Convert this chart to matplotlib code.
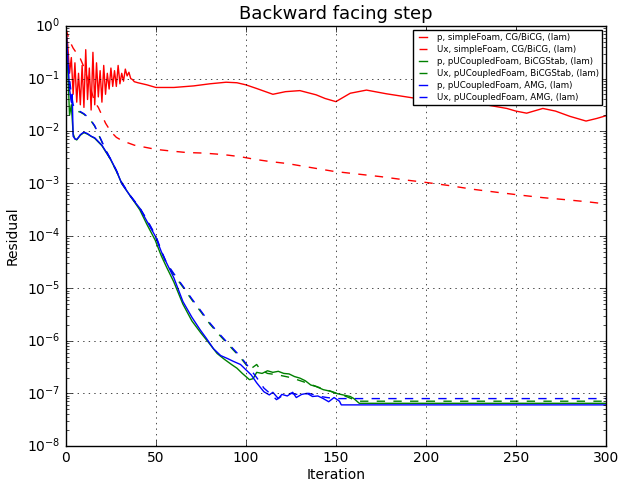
import matplotlib
matplotlib.use("Agg")
import matplotlib.pyplot as plt
import numpy as np

plt.style.use("classic")

# p, simpleFoam (log10 of residual)
p_simple_it = [0, 1, 2, 3, 4, 5, 6, 7, 8, 9, 10, 11, 12, 13, 14, 15, 16, 17, 18, 19,
               20, 21, 22, 23, 24, 25, 26, 27, 28, 29, 30, 31, 32, 33, 34, 35, 36, 37, 38,
               40, 45, 50, 60, 71, 80, 89, 95, 100, 106, 115, 122, 130, 139, 144, 150,
               158, 167, 178, 193, 200, 210, 220, 235, 245, 250, 256, 260, 265, 272, 280,
               289, 295, 300]
p_simple_log = [-0.05, -0.35, -0.9, -0.6, -1.3, -0.7, -1.45, -0.9, -1.5, -0.75,
                -1.55, -0.45, -1.4, -0.8, -1.6, -0.5, -1.5, -0.7, -1.35, -0.85,
                -1.45, -0.75, -1.3, -0.9, -1.2, -0.8, -1.15, -0.85, -1.15, -0.75,
                -1.1, -0.9, -1.05, -0.82, -0.95, -0.88, -1.0, -1.02, -1.06,
                -1.08, -1.12, -1.17, -1.17, -1.14, -1.1, -1.07, -1.08, -1.12, -1.19,
                -1.30, -1.25, -1.23, -1.31, -1.38, -1.44, -1.28, -1.22, -1.29, -1.37,
                -1.36, -1.38, -1.44, -1.51, -1.57, -1.62, -1.66, -1.62, -1.57, -1.62,
                -1.72, -1.81, -1.76, -1.71]

# Ux, simpleFoam
ux_simple_it = [0, 2, 4, 6, 8, 10, 12, 14, 16, 18, 20, 22, 24, 26, 28, 30, 34, 38, 44,
                50, 58, 67, 76, 84, 90, 97, 105, 113, 123, 135, 149, 162, 175, 188, 200,
                213, 226, 240, 252, 265, 278, 290, 300]
ux_simple_log = [-0.05, -0.28, -0.42, -0.52, -0.62, -0.78, -1.0, -1.22, -1.45, -1.55,
                 -1.7, -1.85, -1.96, -2.05, -2.12, -2.16, -2.22, -2.27, -2.31,
                 -2.35, -2.38, -2.41, -2.42, -2.44, -2.46, -2.49, -2.54, -2.58, -2.62,
                 -2.69, -2.77, -2.82, -2.87, -2.93, -2.98, -3.04, -3.11, -3.17, -3.22,
                 -3.27, -3.31, -3.35, -3.39]

# p, pUCoupledFoam, BiCGStab
p_bicg_it = [0, 1, 2, 3, 4, 5, 6, 8, 10, 12, 14, 16, 18, 20, 22, 24.6, 28, 31, 36, 41,
             45, 49.6, 53, 56, 60, 65, 70, 75, 79, 84, 88, 92, 95, 98, 102, 104, 106,
             109, 112, 115, 118, 121, 124, 127, 130, 133, 136, 139, 143, 147, 150, 154,
             158, 160, 163, 300]
p_bicg_log = [-0.02, -0.8, -1.7, -1.5, -2.05, -2.15, -2.17, -2.08, -2.03, -2.06, -2.1,
              -2.14, -2.21, -2.28, -2.39, -2.53, -2.76, -3.0, -3.25, -3.5,
              -3.78, -4.08, -4.38, -4.6, -4.88, -5.3, -5.62, -5.85, -6.02, -6.24, -6.35,
              -6.45, -6.52, -6.62, -6.74, -6.72, -6.6, -6.62, -6.57, -6.6, -6.58, -6.62,
              -6.63, -6.68, -6.71, -6.76, -6.84, -6.87, -6.93, -6.96, -7.0, -7.03,
              -7.06, -7.1, -7.19, -7.19]

# Ux, pUCoupledFoam, BiCGStab
ux_bicg_it = [0, 1, 2, 3, 4, 6, 8, 10, 12, 14, 16, 18, 20, 22, 25, 28, 31, 36, 41, 46,
              50, 53, 56, 60, 65.3, 70, 74.6, 80, 84, 91, 97, 100, 102, 104, 106, 108,
              112, 118, 125, 132, 140, 148, 155, 160, 163, 300]
ux_bicg_log = [-0.1, -0.7, -1.2, -1.4, -1.55, -1.62, -1.64, -1.68, -1.74, -1.81, -1.91,
               -2.06, -2.21, -2.36, -2.56, -2.76, -2.99, -3.25, -3.47, -3.76,
               -4.02, -4.3, -4.54, -4.74, -4.99, -5.22, -5.43, -5.68, -5.84, -6.1, -6.32,
               -6.45, -6.55, -6.5, -6.45, -6.55, -6.62, -6.65, -6.7, -6.78, -6.88, -6.97,
               -7.05, -7.12, -7.15, -7.15]

# p, pUCoupledFoam, AMG
p_amg_it = [0, 1, 2, 3, 3.5, 4, 5, 6, 7, 8, 10, 12, 14, 16, 18, 20, 22, 24.6, 28, 31,
            36, 41, 45, 49.6, 53, 56, 60, 65, 70, 74.6, 78, 82, 86, 90, 93, 97, 100, 103,
            106, 110, 113, 115, 118, 120, 123, 126, 128, 131, 134, 137, 140, 143, 146,
            149, 152, 153, 300]
p_amg_log = [-0.02, -0.6, -1.2, -1.45, -1.3, -2.1, -2.15, -2.16, -2.12, -2.07, -2.02,
             -2.05, -2.1, -2.13, -2.2, -2.27, -2.38, -2.52, -2.75, -3.0,
             -3.25, -3.47, -3.72, -4.0, -4.3, -4.52, -4.8, -5.25, -5.55, -5.79, -5.95,
             -6.15, -6.28, -6.34, -6.39, -6.45, -6.55, -6.65, -6.8, -6.97, -7.03, -6.98,
             -7.1, -7.02, -7.05, -6.98, -7.08, -7.02, -7.0, -7.06, -7.05, -7.1, -7.16,
             -7.08, -7.15, -7.22, -7.22]

# Ux, pUCoupledFoam, AMG
ux_amg_it = [0, 1, 2, 3, 4, 6, 8, 10, 12, 14, 16, 18, 20, 22, 25, 28, 31, 36, 41, 46,
             50, 53, 56, 60, 65.3, 70, 74.6, 80, 84, 91, 97, 102, 106, 110, 114, 117,
             120, 125, 130, 135, 140, 145, 150, 300]
ux_amg_log = [-0.1, -0.6, -1.0, -1.3, -1.5, -1.6, -1.63, -1.67, -1.73, -1.8, -1.9,
              -2.05, -2.2, -2.35, -2.55, -2.75, -2.98, -3.24, -3.46, -3.75,
              -4.0, -4.28, -4.52, -4.72, -4.97, -5.2, -5.41, -5.66, -5.82, -6.08, -6.3,
              -6.52, -6.7, -6.9, -7.02, -7.12, -7.05, -7.0, -7.03, -7.0, -7.05, -7.08,
              -7.1, -7.1]

series = [
    (p_simple_it, p_simple_log, "r-", "p, simpleFoam, CG/BiCG, (lam)"),
    (ux_simple_it, ux_simple_log, "r--", "Ux, simpleFoam, CG/BiCG, (lam)"),
    (p_bicg_it, p_bicg_log, "g-", "p, pUCoupledFoam, BiCGStab, (lam)"),
    (ux_bicg_it, ux_bicg_log, "g--", "Ux, pUCoupledFoam, BiCGStab, (lam)"),
    (p_amg_it, p_amg_log, "b-", "p, pUCoupledFoam, AMG, (lam)"),
    (ux_amg_it, ux_amg_log, "b--", "Ux, pUCoupledFoam, AMG, (lam)"),
]

fig = plt.figure(figsize=(6.22, 4.83), dpi=100, facecolor="white")
ax = fig.add_axes([0.106, 0.077, 0.868, 0.869])

for it, lg, fmt, label in series:
    ax.semilogy(it, 10 ** np.array(lg), fmt, label=label, linewidth=1.0)

ax.set_xlim(0, 300)
ax.set_ylim(1e-8, 1e0)
ax.grid(True)
ax.tick_params(labelsize=10)
ax.set_xlabel("Iteration", fontsize=10, labelpad=2)
ax.set_ylabel("Residual", fontsize=10)
ax.set_title("Backward facing step", fontsize=13)
ax.legend(loc="upper right", fontsize=6.2, handlelength=1.6, labelspacing=0.35,
          borderaxespad=0.4)

fig.savefig("out.png", dpi=100, facecolor="white")
